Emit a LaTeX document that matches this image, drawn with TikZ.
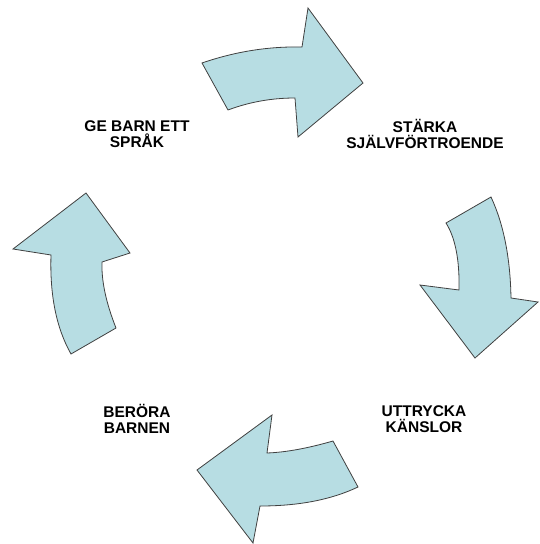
\documentclass[tikz,border=0pt]{standalone}
\usepackage{fontspec}
\setmainfont{Liberation Sans}
\definecolor{arrowfill}{RGB}{183,221,227}
\definecolor{arrowline}{RGB}{64,64,64}
\begin{document}
\begin{tikzpicture}[x=1pt,y=-1pt,
  bigarrow/.style={fill=arrowfill,draw=arrowline,line width=0.8pt,line join=miter},
  lbl/.style={font=\bfseries\fontsize{15.5}{16.5}\selectfont,align=center,inner sep=0pt}]
\useasboundingbox (0,0) rectangle (539,544);
% top arrow
\draw[bigarrow] (202,63) .. controls (234.7,51.7) and (268,46.3) .. (302,47) -- (308,8) -- (363,83) -- (298,137) -- (295,98) .. controls (271.7,98) and (249.3,102) .. (228,110) -- cycle;
% right arrow
\draw[bigarrow] (491,197) .. controls (503.7,224.3) and (510.3,258) .. (511,298) -- (538,302) -- (475,358) -- (420,285) -- (459,290) .. controls (459.7,260) and (455.3,237.7) .. (446,223) -- cycle;
% bottom arrow
\draw[bigarrow] (358,487) .. controls (331.3,499.7) and (298.7,506) .. (260,506) -- (253,543) -- (197,470) -- (272,415) -- (267,453) .. controls (285.7,452.3) and (307.7,448.3) .. (333,441) -- cycle;
% left arrow
\draw[bigarrow] (116,328) .. controls (106,302.7) and (101.3,280.7) .. (102,262) -- (130,253) -- (86,193) -- (13,249) -- (51,255) .. controls (49.7,295) and (56.3,328) .. (71,354) -- cycle;
% labels
\node[lbl] (ge) at (137,134) {GE BARN ETT\\SPRÅK};
\node[lbl] (st) at (425,134) {STÄRKA\\SJÄLVFÖRTROENDE};
\node[lbl] (be) at (137,419) {BERÖRA\\BARNEN};
\node[lbl] (ut) at (424,419) {UTTRYCKA\\KÄNSLOR};
\end{tikzpicture}
\end{document}
